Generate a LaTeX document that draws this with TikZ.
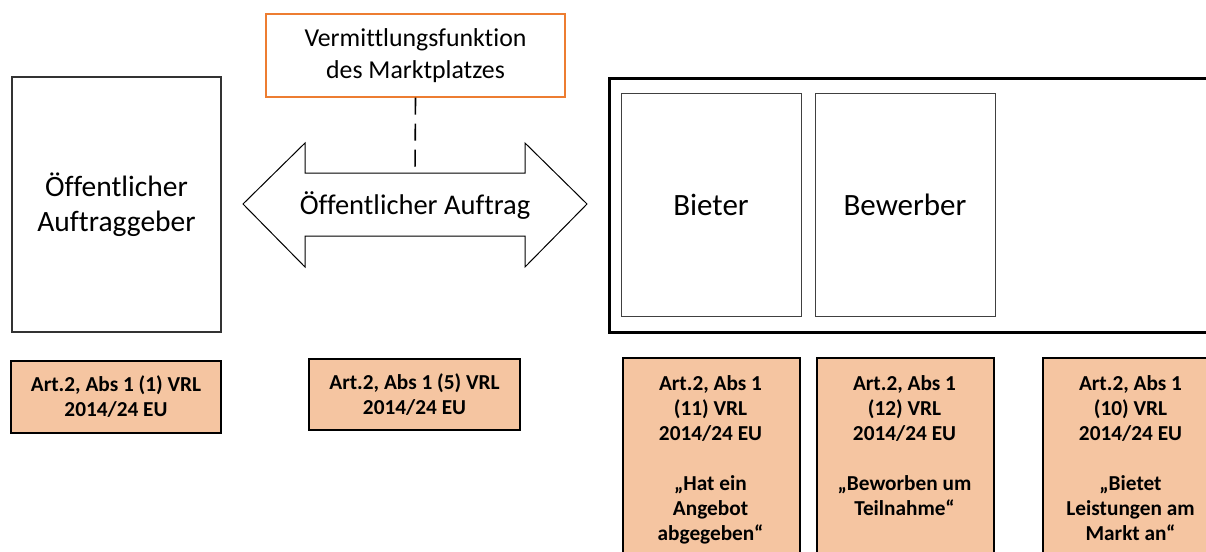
\documentclass[tikz,border=0pt]{standalone}
\usepackage{fontspec}
\setmainfont{Carlito}[Ligatures=NoCommon]
\definecolor{peach}{RGB}{245,197,161}
\definecolor{orng}{RGB}{237,125,49}
\begin{document}
\begin{tikzpicture}[x=1pt,y=-1pt,
  whitebox/.style={draw=black!80, line width=1.2pt, fill=white, inner sep=0pt, align=center},
  innerbox/.style={draw=black!75, line width=1pt, fill=white, inner sep=0pt,
    minimum width=180pt, minimum height=223pt, font=\fontsize{31}{37}\selectfont},
  peachbox/.style={draw=black, line width=2pt, fill=peach, inner sep=0pt, align=center,
    font=\bfseries\fontsize{21.3}{25}\selectfont},
  btext/.style={inner sep=0pt, align=center, anchor=north, font=\bfseries\fontsize{21.3}{25}\selectfont},
  dashline/.style={line width=1.6pt, dash pattern=on 17pt off 9pt}
]
\useasboundingbox (0,0) rectangle (1206,551);
\clip (0,0) rectangle (1206,551);

% left box
\node[whitebox, minimum width=209pt, minimum height=255pt, font=\fontsize{29.5}{35}\selectfont]
  (ag) at (116.5,204.5) {Öffentlicher\\Auftraggeber};

% top orange box
\node[draw=orng, line width=1.3pt, fill=white, inner sep=0pt, align=center,
  minimum width=299pt, minimum height=83pt, font=\fontsize{25.8}{32}\selectfont]
  (vm) at (415.5,55.5) {Vermittlungsfunktion\\des Marktplatzes};

% double arrow
\draw[line width=1pt, fill=white] (243,204) -- (305,143) -- (305,173) -- (525,173) -- (525,143)
  -- (587,204) -- (525,267) -- (525,236) -- (305,236) -- (305,267) -- cycle;
\coordinate (shafttop) at (415,173);
\node[inner sep=0pt, font=\fontsize{28.5}{35}\selectfont] (auftrag) at (415,206) {Öffentlicher Auftrag};
\draw[dashline] (vm.south) -- (shafttop);

% big right frame
\node[draw=black, line width=2.5pt, fill=white, inner sep=0pt, anchor=north west,
  minimum width=612pt, minimum height=254pt] (markt) at (608,77) {};
\node[innerbox] (bieter) at (711,204.5) {Bieter};
\node[innerbox] (bewerber) at (905,204.5) {Bewerber};

% bottom boxes
\node[peachbox, minimum width=210pt, minimum height=72pt] (r1) at (116,397)
  {Art.2, Abs 1 (1) VRL\\2014/24 EU};
\node[peachbox, minimum width=211pt, minimum height=71pt] (r2) at (414.5,394.5)
  {Art.2, Abs 1 (5) VRL\\2014/24 EU};

\node[peachbox, anchor=north west, minimum width=177pt, minimum height=220pt] (r3) at (622,357) {};
\node[peachbox, anchor=north west, minimum width=177pt, minimum height=220pt] (r4) at (816,357) {};
\node[peachbox, anchor=north west, minimum width=177pt, minimum height=220pt] (r5) at (1042,357) {};

\node[btext] (t3) at (710.5,375) {Art.2, Abs 1\\(11) VRL\\2014/24 EU\\[25pt]„Hat ein\\Angebot\\abgegeben“};
\node[btext] (t4) at (904.5,375) {Art.2, Abs 1\\(12) VRL\\2014/24 EU\\[25pt]„Beworben um\\Teilnahme“};
\node[btext] (t5) at (1130.5,375) {Art.2, Abs 1\\(10) VRL\\2014/24 EU\\[25pt]„Bietet\\Leistungen am\\Markt an“};
\end{tikzpicture}
\end{document}
